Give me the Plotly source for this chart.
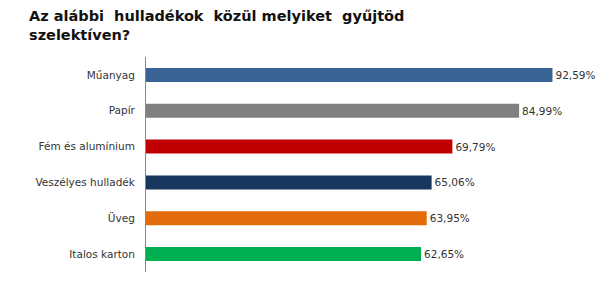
import plotly.graph_objects as go

categories = ["Műanyag", "Papír", "Fém és alumínium", "Veszélyes hulladék", "Üveg", "Italos karton"]
values = [92.59, 84.99, 69.79, 65.06, 63.95, 62.65]
value_labels = ["92,59%", "84,99%", "69,79%", "65,06%", "63,95%", "62,65%"]
colors = ["#3A6496", "#808080", "#C00000", "#17375E", "#E36C0A", "#00B050"]
title_text = "<b>Az alábbi  hulladékok  közül melyiket  gyűjtöd<br>szelektíven?</b>"

fig = go.Figure(go.Bar(
    y=categories, x=values, orientation="h",
    marker=dict(color=colors, line=dict(width=0)),
    width=0.39,
    text=value_labels, textposition="outside", cliponaxis=False,
    textfont=dict(family="DejaVu Sans", size=10.5, color="#333333"),
))

fig.add_annotation(
    text=title_text, showarrow=False,
    xref="paper", yref="paper",
    x=(27 - 146) / 439, y=1 + 51 / 215,
    xanchor="left", yanchor="top", align="left",
    font=dict(family="DejaVu Sans", size=14.5, color="#111111"),
)

fig.update_layout(
    width=600, height=300,
    margin=dict(l=146, r=15, t=57, b=28),
    paper_bgcolor="white", plot_bgcolor="white",
    showlegend=False,
    xaxis=dict(range=[0, 100], visible=False, showgrid=False, zeroline=False),
    yaxis=dict(
        autorange="reversed", showgrid=False, zeroline=False,
        showline=True, linecolor="#888888", linewidth=1,
        ticks="", ticklabelstandoff=8,
        tickfont=dict(family="DejaVu Sans", size=10.5, color="#333333"),
    ),
    bargap=0.6,
)

fig.write_html("out.html")
